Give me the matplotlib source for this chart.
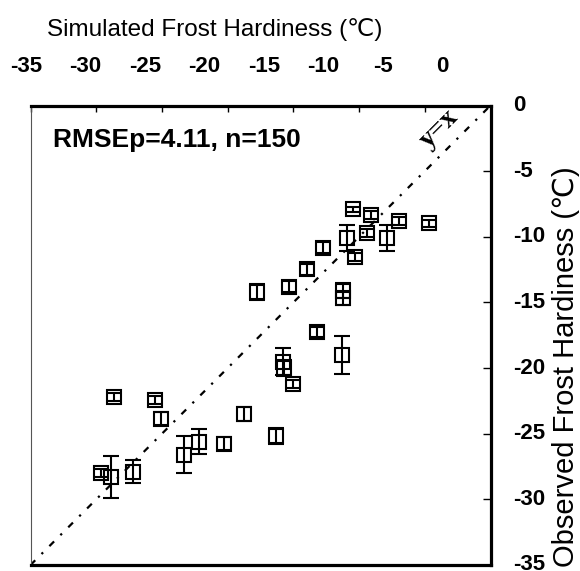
import matplotlib
matplotlib.use('Agg')
import matplotlib.pyplot as plt
import numpy as np

sim = [-4.69, -6.94, -9.13, -10.44, -9.38, -10.95, -7.91, -10.34, -12.72, -13.94,
       -15.34, -17.8, -11.26, -11.2, -13.18, -11.28, -15.77, -15.7, -15.0, -28.66,
       -25.49, -25.1, -18.77, -16.35, -20.29, -22.19, -23.33, -27.19, -29.67, -28.91]
obs = [-8.98, -8.83, -8.37, -7.91, -9.69, -10.1, -10.1, -11.54, -10.83, -12.48,
       -13.8, -14.2, -14.1, -14.7, -17.25, -19.0, -19.5, -20.0, -21.2, -22.2,
       -22.4, -23.85, -23.5, -25.2, -25.75, -25.6, -26.6, -27.9, -28.0, -28.3]
err = [0.25, 0.3, 0.3, 0.2, 0.3, 1.0, 1.0, 0.3, 0.4, 0.4,
       0.4, 0.6, 0.6, 0.5, 0.4, 1.43, 1.0, 0.6, 0.3, 0.3,
       0.3, 0.5, 0.5, 0.6, 0.5, 0.95, 1.4, 0.86, 0.3, 1.6]
ticks = [-35, -30, -25, -20, -15, -10, -5, 0]
tick_labels = ['-35', '-30', '-25', '-20', '-15', '-10', '-5', '0']

sans = ['Liberation Sans', 'DejaVu Sans']
plt.rcParams['font.family'] = sans

W, H = 580, 571
fig = plt.figure(figsize=(W/100, H/100), dpi=100)

# ejes principales (cuadro)
ax = fig.add_axes([30.5/W, (H-565)/H, 460/W, 459.5/H])
ax.set_xlim(-35, 0)
ax.set_ylim(-35, 0)

ax.errorbar(sim, obs, yerr=err, fmt='s', mfc='none', mec='black', mew=1.5,
            ms=9.5, ecolor='black', elinewidth=1.5, capsize=5.5, capthick=1.5,
            color='black')

# linea 1:1
ax.plot([-35, 0], [-35, 0], color='black', lw=1.6,
        linestyle=(0, (3, 4, 1, 4)))
ax.text(-3.9, -1.75, 'y=x', rotation=45, ha='center', va='center',
        fontsize=20, family='Liberation Serif', fontweight='bold')

ax.text(0.049, 0.91, 'RMSEp=4.11, n=150', transform=ax.transAxes,
        fontsize=19, fontweight='bold', va='baseline', ha='left')

# bordes
for lado in ['top', 'right', 'bottom']:
    ax.spines[lado].set_linewidth(2.3)
ax.spines['left'].set_linewidth(0.8)
ax.spines['left'].set_color('#555555')

ax.set_xticks(ticks)
ax.set_yticks(ticks)
ax.tick_params(axis='x', which='both', bottom=False, top=True, direction='in',
               length=4.5, width=1, labelbottom=False, labeltop=False)
ax.tick_params(axis='y', which='both', left=False, right=True, direction='in',
               length=6, width=1, labelleft=False, labelright=True,
               labelsize=16, pad=16)
ax.set_yticklabels(tick_labels, fontweight='bold')
for t in ax.get_yticklabels():
    t.set_verticalalignment('center')

# etiquetas superiores (desplazadas respecto del cuadro, como en el original)
ax2 = fig.add_axes([26/W, (H-82)/H, (442-26)/W, 0.0001])
ax2.set_xlim(-35, 0)
ax2.set_xticks(ticks)
ax2.set_xticklabels(tick_labels, fontweight='bold')
ax2.tick_params(axis='x', bottom=False, top=False, labelbottom=False,
                labeltop=True, labelsize=16, pad=0)
ax2.set_yticks([])
for s in ax2.spines.values():
    s.set_visible(False)
ax2.patch.set_visible(False)

fig.text(215/W, 1 - 30/H, 'Simulated Frost Hardiness (\u2103)', ha='center',
         va='center', fontsize=17.5)
fig.text(566/W, 1 - 367/H, 'Observed Frost Hardiness (\u2103)', ha='center',
         va='center', rotation=90, fontsize=21)

fig.savefig('out.png', dpi=100)
